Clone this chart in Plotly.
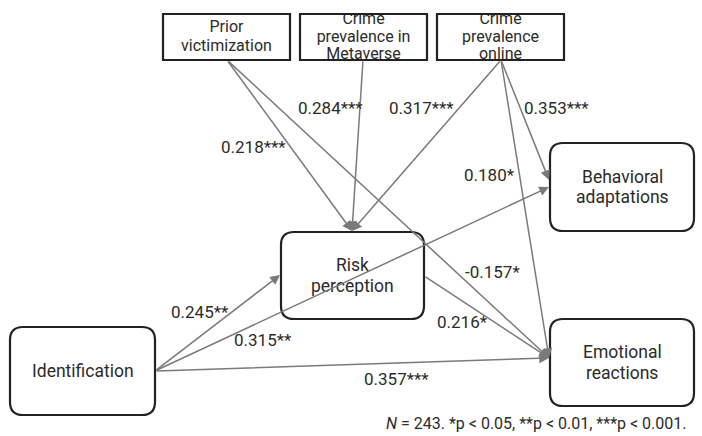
import plotly.graph_objects as go

# ---- data ----
top_nodes = ["Prior<br>victimization", "Crime<br>prevalence in<br>Metaverse", "Crime<br>prevalence<br>online"]
main_nodes = ["Identification", "Risk<br>perception", "Behavioral<br>adaptations", "Emotional<br>reactions"]
edge_from = ["Prior", "Prior", "Metaverse", "Online", "Online", "Online", "Ident", "Ident", "Ident", "Risk"]
edge_to = ["Risk", "Emotional", "Risk", "Risk", "Behavioral", "Emotional", "Risk", "Behavioral", "Emotional", "Emotional"]
edge_labels = ["0.218***", "-0.157*", "0.284***", "0.317***", "0.353***", None, "0.245**", "0.180*", "0.357***", "0.216*"]
extra_labels = ["0.315**"]
footnote = "<i>N</i> = 243. *p < 0.05, **p < 0.01, ***p < 0.001."

# ---- layout geometry (pixel-like data coordinates) ----
W, H = 702, 436
top_boxes = [(163, 14, 290, 60), (300, 14, 427, 60), (437, 14, 564, 60)]
main_boxes = [(10, 327, 155, 415), (281, 232, 424, 319), (550, 143, 694, 231), (550, 319, 694, 406)]

ports = {
    ("Prior", "out"): (227, 60), ("Metaverse", "out"): (363, 60), ("Online", "out"): (501, 60),
    ("Ident", "out"): (155, 371), ("Risk", "out"): (424, 276),
}
heads = {
    ("Prior", "Risk"): (352, 231), ("Metaverse", "Risk"): (352, 231), ("Online", "Risk"): (352, 231),
    ("Prior", "Emotional"): (549, 358), ("Online", "Emotional"): (549, 358),
    ("Ident", "Emotional"): (549, 358), ("Risk", "Emotional"): (549, 358),
    ("Online", "Behavioral"): (549, 180), ("Ident", "Behavioral"): (549, 187),
    ("Ident", "Risk"): (280, 275),
}
label_pos = {
    ("Prior", "Risk"): (253, 147), ("Prior", "Emotional"): (492, 272),
    ("Metaverse", "Risk"): (330, 108), ("Online", "Risk"): (421, 108),
    ("Online", "Behavioral"): (556, 108), ("Ident", "Risk"): (200, 312),
    ("Ident", "Behavioral"): (489, 175), ("Ident", "Emotional"): (396, 379),
    ("Risk", "Emotional"): (462, 322),
}
extra_pos = [(263, 340)]

FONT = "Roboto"
TXT = "#2b2b2b"
LINE = "#7a7a7a"
NODE_SIZE = 17.5
NODE_LH = 20.5
EDGE_SIZE = 17
TOP_SIZE = 16
TOP_LH = {2: 19.5, 3: 17.5}

def rounded(x0, y0, x1, y1, r=13):
    return (f"M{x0+r},{y0} L{x1-r},{y0} Q{x1},{y0} {x1},{y0+r} L{x1},{y1-r} "
            f"Q{x1},{y1} {x1-r},{y1} L{x0+r},{y1} Q{x0},{y1} {x0},{y1-r} "
            f"L{x0},{y0+r} Q{x0},{y0} {x0+r},{y0} Z")

fig = go.Figure()

# top-box labels as text trace, one point per line (so they can be clipped by masks)
tx, ty, tt = [], [], []
for name, (x0, y0, x1, y1) in zip(top_nodes, top_boxes):
    lines = name.split("<br>")
    n = len(lines)
    cy = (y0 + y1) / 2 + 0.5
    for i, ln in enumerate(lines):
        tx.append((x0 + x1) / 2)
        ty.append(cy + (i - (n - 1) / 2) * TOP_LH[n])
        tt.append(ln)
fig.add_trace(go.Scatter(
    x=tx, y=ty, text=tt, mode="text", textposition="middle center",
    textfont=dict(family=FONT, size=TOP_SIZE, color=TXT), hoverinfo="skip", showlegend=False))

shapes = []
for (x0, y0, x1, y1) in top_boxes:
    shapes.append(dict(type="rect", x0=x0 - 2, x1=x1 + 2, y0=0, y1=y0 - 0.5, fillcolor="white",
                       line=dict(width=0), layer="above"))
    shapes.append(dict(type="rect", x0=x0 - 2, x1=x1 + 2, y0=y1 + 0.5, y1=y1 + 10, fillcolor="white",
                       line=dict(width=0), layer="above"))
    shapes.append(dict(type="rect", x0=x0, x1=x1, y0=y0, y1=y1, line=dict(color="#222", width=2.2),
                       layer="above"))
for (x0, y0, x1, y1) in main_boxes:
    shapes.append(dict(type="path", path=rounded(x0, y0, x1, y1), line=dict(color="#222", width=2.2),
                       fillcolor="rgba(0,0,0,0)", layer="above"))

annotations = []
for name, (x0, y0, x1, y1) in zip(main_nodes, main_boxes):
    lines = name.split("<br>")
    n = len(lines)
    for i, ln in enumerate(lines):
        annotations.append(dict(x=(x0 + x1) / 2, y=(y0 + y1) / 2 + (i - (n - 1) / 2) * NODE_LH,
                                text=ln, showarrow=False, xref="x", yref="y",
                                font=dict(family=FONT, size=NODE_SIZE, color=TXT)))

for f, t, lab in zip(edge_from, edge_to, edge_labels):
    sx, sy = ports[(f, "out")]
    hx, hy = heads[(f, t)]
    annotations.append(dict(x=hx, y=hy, ax=sx, ay=sy, xref="x", yref="y", axref="x", ayref="y",
                            text="", showarrow=True, arrowhead=2, arrowsize=1.3, arrowwidth=1.5,
                            arrowcolor=LINE, standoff=0, startstandoff=0))
    if lab:
        lx, ly = label_pos[(f, t)]
        annotations.append(dict(x=lx, y=ly, text=lab, showarrow=False, xref="x", yref="y",
                                font=dict(family=FONT, size=EDGE_SIZE, color=TXT)))
for lab, (lx, ly) in zip(extra_labels, extra_pos):
    annotations.append(dict(x=lx, y=ly, text=lab, showarrow=False, xref="x", yref="y",
                            font=dict(family=FONT, size=EDGE_SIZE, color=TXT)))

annotations.append(dict(x=689, y=423, text=footnote, showarrow=False, xref="x", yref="y",
                        xanchor="right", font=dict(family=FONT, size=16, color=TXT)))

fig.update_layout(
    width=W, height=H, margin=dict(l=0, r=0, t=0, b=0),
    paper_bgcolor="white", plot_bgcolor="white",
    xaxis=dict(range=[0, W], visible=False, fixedrange=True),
    yaxis=dict(range=[H, 0], visible=False, fixedrange=True),
    shapes=shapes, annotations=annotations, showlegend=False,
)
fig.write_html("out.html", config={"displayModeBar": False},
               post_script="document.body.style.margin='0';document.body.style.overflow='hidden';")
